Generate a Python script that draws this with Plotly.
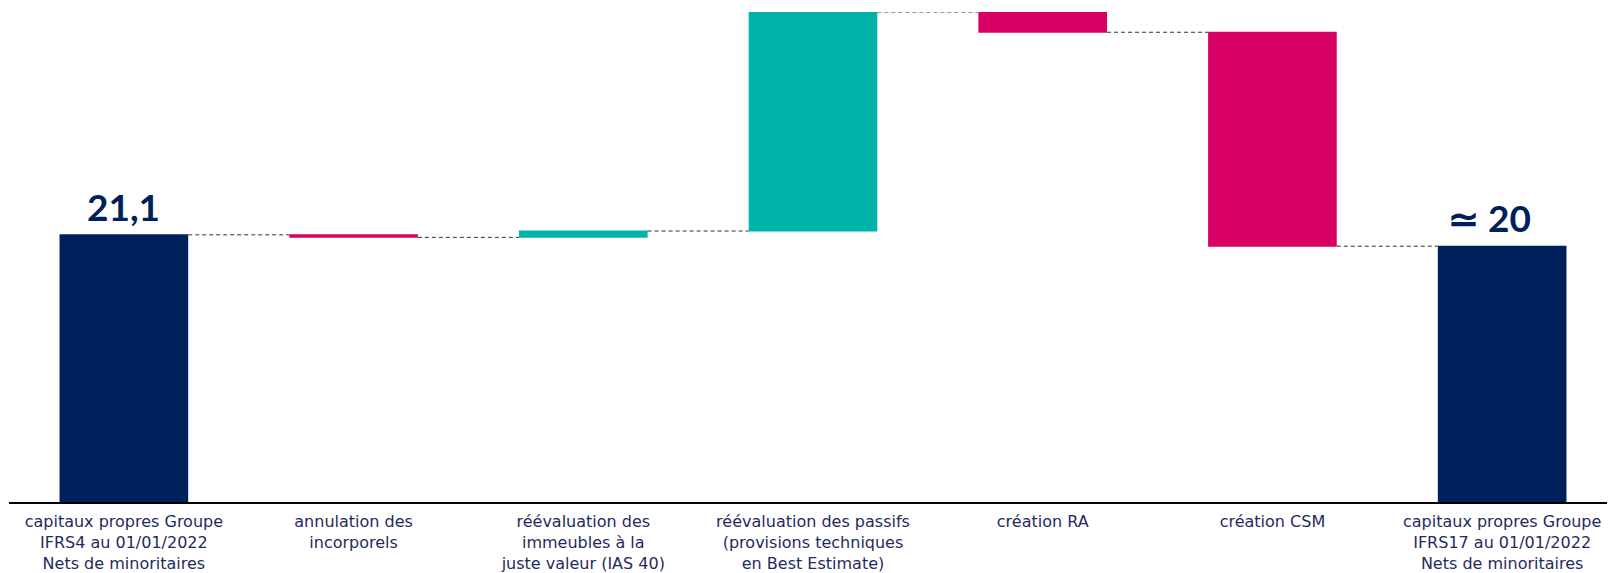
import plotly.graph_objects as go

categories = [
    "capitaux propres Groupe<br>IFRS4 au 01/01/2022<br>Nets de minoritaires",
    "annulation des<br>incorporels",
    "réévaluation des<br>immeubles à la<br>juste valeur (IAS 40)",
    "réévaluation des passifs<br>(provisions techniques<br>en Best Estimate)",
    "création RA",
    "création CSM",
    "capitaux propres Groupe<br>IFRS17 au 01/01/2022<br>Nets de minoritaires",
]
measures = ["absolute", "relative", "relative", "relative", "relative", "relative", "total"]
values = [21.1, -0.2, 0.5, 17.3, -1.6, -16.9, 0]
bar_labels = ["21,1", "", "", "", "", "", "≃ 20"]

NAVY = "#00205B"
TEAL = "#00B3A9"
MAGENTA = "#D70064"
TEXT = "#1F2B5C"

fig = go.Figure(go.Waterfall(
    x=categories,
    y=values,
    measure=measures,
    width=0.56,
    increasing=dict(marker=dict(color=TEAL)),
    decreasing=dict(marker=dict(color=MAGENTA)),
    totals=dict(marker=dict(color=NAVY)),
    connector=dict(mode="between", line=dict(color="#333333", width=1, dash="4px,3px")),
    hoverinfo="skip",
))

# running totals for label anchoring
running = []
acc = 0
for m, v in zip(measures, values):
    if m == "absolute":
        acc = v
    elif m == "relative":
        acc += v
    running.append(acc)

for i, lab in enumerate(bar_labels):
    if lab:
        fig.add_annotation(
            x=categories[i], y=running[i], text=f"<b>{lab}</b>",
            showarrow=False, yanchor="bottom", yshift=4,
            xshift=-13 if i == len(categories) - 1 else 0,
            font=dict(family="Lato", size=37, color=NAVY),
        )

# page body has an 8px margin; size the figure so the plot lands where the reference has it
fig.update_layout(
    width=1609, height=565,
    margin=dict(l=1, r=0, t=4, b=66),
    plot_bgcolor="white", paper_bgcolor="white",
    showlegend=False,
    xaxis=dict(
        showline=True, linecolor="black", linewidth=2,
        showgrid=False, ticks="", zeroline=False,
        ticklabelstandoff=4,
        tickfont=dict(family="DejaVu Sans", size=16, color=TEXT),
    ),
    yaxis=dict(
        range=[0, 38.7], showticklabels=False, showgrid=False,
        zeroline=False, showline=False, ticks="",
    ),
)

fig.write_html("out.html")
